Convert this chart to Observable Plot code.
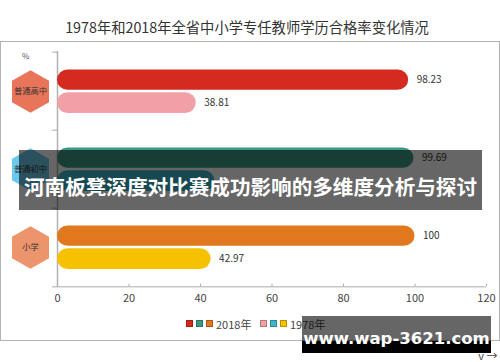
<!DOCTYPE html>
<html>
<head>
<meta charset="utf-8">
<script src="https://cdn.jsdelivr.net/npm/d3@7"></script>
<script src="https://cdn.jsdelivr.net/npm/@observablehq/plot@0.6"></script>
<style>
  html, body { margin: 0; padding: 0; background: #fff; }
  #wrap { position: relative; width: 500px; height: 362px; overflow: hidden; font-family: "Noto Sans CJK SC", "Noto Sans", sans-serif; background: #fff; }
  #frame { position: absolute; left: 0; top: 41px; width: 500px; height: 300px; box-sizing: border-box; border: 1px solid #b4b4b4; }
  #title { position: absolute; left: 0; width: 494px; top: 17px; text-align: center; font-size: 14.3px; color: #333; line-height: 20px; white-space: nowrap; }
  #pct { position: absolute; left: 22px; top: 50px; font-size: 8px; color: #555; }
  #chart { position: absolute; left: 0; top: 0; }
  #legend { position: absolute; top: 317px; left: 0; width: 500px; height: 14px; font-size: 11px; color: #444; }
  .sq { position: absolute; top: 3px; width: 7px; height: 7px; border: 0.5px solid rgba(0,0,0,0.25); box-sizing: border-box; }
  .lt { position: absolute; top: 0; line-height: 14px; }
  #banner { position: absolute; left: 19px; top: 150px; width: 463px; height: 60px; background: rgba(0,0,0,0.6); color: #fff; font-weight: bold; font-size: 20.6px; font-family: "Noto Sans CJK SC", sans-serif; text-align: center; line-height: 60px; padding-top: 6px; box-sizing: border-box; white-space: nowrap; }
  #wm { position: absolute; left: 302px; top: 316px; width: 189px; height: 37px; background: linear-gradient(to bottom, rgba(0,0,0,0.6) 0px, rgba(0,0,0,0.6) 25px, #000 25px, #000 37px); color: #fff; font-weight: bold; font-size: 16.5px; font-family: "DejaVu Sans", sans-serif; text-align: center; line-height: 37px; padding-top: 4px; box-sizing: border-box; white-space: nowrap; }
</style>
</head>
<body>
<div id="wrap">
  <div id="frame"></div>
  <div id="title"></div>
  <div id="pct">%</div>
  <div id="chart"></div>
  <div id="legend"></div>
  <div id="banner"></div>
  <div id="wm"></div>
</div>
<script>
const titleText = "1978年和2018年全省中小学专任教师学历合格率变化情况";
const categories = ["普通高中", "普通初中", "小学"];
const years = ["2018年", "1978年"];
const values2018 = [98.23, 99.69, 100];
const values1978 = [38.81, 44, 42.97];
const labels2018 = ["98.23", "99.69", "100"];
const labels1978 = ["38.81", "", "42.97"];
const colors2018 = ["#d52a1f", "#3b9a86", "#e2781e"];
const colors1978 = ["#f0a0a6", "#3cb6cb", "#f5c100"];
const hexColors = ["#e8755a", "#6cc8ec", "#ec956c"];
const xTicks = [0, 20, 40, 60, 80, 100, 120];
const bannerText = "河南板凳深度对比赛成功影响的多维度分析与探讨";
const watermarkText = "www.wap-3621.com";

document.getElementById("title").textContent = titleText;
document.getElementById("banner").textContent = bannerText;
document.getElementById("wm").textContent = watermarkText;

const rows2018 = categories.map((c, i) => ({cat: c, v: values2018[i], label: labels2018[i], color: colors2018[i]}));
const rows1978 = categories.map((c, i) => ({cat: c, v: values1978[i], label: labels1978[i], color: colors1978[i]}));
const hexRows = categories.map((c, i) => ({cat: c, color: hexColors[i]}));

const mTop = 51, mBottom = 75, H = 362;
const bw = (H - mTop - mBottom) / categories.length;

const chart = Plot.plot({
  width: 500,
  height: H,
  marginTop: mTop,
  marginBottom: mBottom,
  marginLeft: 57,
  marginRight: 14,
  style: {background: "transparent", fontFamily: "Noto Sans CJK SC, Noto Sans, sans-serif"},
  x: {domain: [0, 120], axis: null},
  y: {domain: categories, padding: 0, axis: null},
  color: {type: "identity"},
  marks: [
    Plot.axisX({ticks: xTicks, tickSize: 0, tickPadding: 7, fontSize: 11, color: "#444", tickFormat: d => String(d)}),
    Plot.tickX(xTicks, {x: d => d, y: () => "小学", stroke: "#aaa", insetTop: bw - 3}),
    Plot.ruleX([0], {stroke: "#b0b0b0", strokeWidth: 1.5}),
    Plot.ruleY(categories, {y: d => d, x1: -1.4, x2: 0, dy: -bw / 2, stroke: "#aaa"}),
    Plot.ruleY(["小学"], {y: d => d, x1: -1.4, x2: 120, dy: bw / 2, stroke: "#aaa"}),
    Plot.barX(rows2018, {x: "v", y: "cat", fill: "color", insetTop: 17.5, insetBottom: 40.2, rx: 10.5}),
    Plot.barX(rows1978, {x: "v", y: "cat", fill: "color", insetTop: 40.2, insetBottom: 17, rx: 10.5}),
    Plot.text(rows2018, {x: "v", y: "cat", text: "label", dx: 8, dy: -11.3, textAnchor: "start", fontSize: 10, fill: "#333"}),
    Plot.text(rows1978, {x: "v", y: "cat", text: "label", dx: 8, dy: 11.6, textAnchor: "start", fontSize: 10, fill: "#333"}),
    Plot.dot(hexRows, {y: "cat", frameAnchor: "left", dx: -27, r: 18.5, symbol: "hexagon", fill: "color", stroke: null}),
    Plot.text(hexRows, {y: "cat", text: "cat", frameAnchor: "left", textAnchor: "middle", dx: -27, fontSize: 8.3, fill: "#333"})
  ]
});
document.getElementById("chart").appendChild(chart);

// legend
const legend = document.getElementById("legend");
const groups = [
  {colors: colors2018, label: years[0], x: 186},
  {colors: colors1978, label: years[1], x: 260}
];
groups.forEach(g => {
  g.colors.forEach((c, i) => {
    const s = document.createElement("div");
    s.className = "sq";
    s.style.left = (g.x + i * 10) + "px";
    s.style.background = c;
    legend.appendChild(s);
  });
  const t = document.createElement("div");
  t.className = "lt";
  t.style.left = (g.x + 30) + "px";
  t.textContent = g.label;
  legend.appendChild(t);
});
</script>
</body>
</html>
